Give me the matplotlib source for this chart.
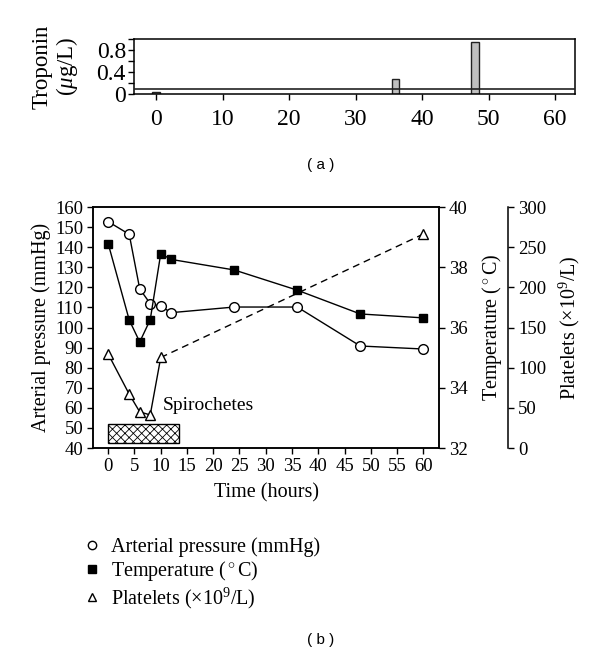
import numpy as np
import matplotlib
matplotlib.use("Agg")
import matplotlib.pyplot as plt
from matplotlib.lines import Line2D
from matplotlib.patches import Rectangle
from matplotlib.ticker import MultipleLocator

plt.rcParams['font.family'] = ['Liberation Serif', 'DejaVu Serif']
plt.rcParams['mathtext.fontset'] = 'custom'
plt.rcParams['mathtext.rm'] = 'Liberation Serif'
plt.rcParams['mathtext.it'] = 'Liberation Serif:italic'
plt.rcParams['axes.linewidth'] = 1.1
plt.rcParams['hatch.color'] = '#888888'
plt.rcParams['hatch.linewidth'] = 0.6

# troponin (panel a)
tropTimes = [0, 36, 48]
tropVals = [0.04, 0.28, 0.95]
tropLimit = 0.1

# panel b
hours = [0, 4, 6, 8, 10, 12, 24, 36, 48, 60]
pressure = [152.7, 146.4, 119.2, 111.9, 110.6, 107.4, 110.2, 110.2, 90.8, 89.3]
temperature = [38.78, 36.25, 35.52, 36.26, 38.45, 38.26, 37.91, 37.24, 36.45, 36.32]
plateletHours = [0, 4, 6, 8, 10, 60]
platelets = [116.9, 67.0, 45.0, 41.2, 112.7, 266.3]
spiroStart, spiroEnd = 0, 13.5

fig = plt.figure(figsize=(6, 6.58), dpi=100)

# ---------- (a) ----------
axA = fig.add_axes([0.2238, 0.8571, 0.7345, 0.0836])
axA.bar(tropTimes, tropVals, width=1.2, color='#c0c0c0', edgecolor='#222222', linewidth=1.0, zorder=2)
axA.axhline(tropLimit, color='#222222', linewidth=1.2, zorder=3)
axA.set_xlim(-3.3, 63)
axA.set_ylim(0, 1.0)
axA.set_xticks(range(0, 61, 10))
axA.set_yticks([0, 0.4, 0.8])
axA.set_yticklabels(['0', '0.4', '0.8'])
axA.yaxis.set_minor_locator(MultipleLocator(0.2))
axA.tick_params(axis='both', which='both', direction='out', labelsize=17, length=4, width=1.0, pad=2)
axA.tick_params(axis='x', pad=7)
axA.set_ylabel('Troponin\n($\\mu$g/L)', fontsize=16.5, linespacing=1.05, labelpad=12)
fig.text(0.535, 1 - 165/658, '( a )', ha='center', va='center', fontsize=11, family='Liberation Sans')

# ---------- (b) ----------
ax = fig.add_axes([0.155, 0.3191, 0.5767, 0.3663])
ax2 = ax.twinx()
ax3 = ax.twinx()

ax.plot(hours, pressure, '-', color='black', linewidth=1.0, zorder=3)
ax.plot(hours, pressure, 'o', markerfacecolor='white', markeredgecolor='black',
        markersize=7, markeredgewidth=1.0, zorder=4)
ax2.plot(hours, temperature, '-s', color='black', markersize=6.3, linewidth=1.0)
ax3.plot(plateletHours[:5], platelets[:5], '-', color='black', linewidth=1.0)
ax3.plot(plateletHours[4:], platelets[4:], '--', color='black', linewidth=1.0, dashes=(5, 3.5))
ax3.plot(plateletHours, platelets, '^', markerfacecolor='white', markeredgecolor='black',
         markersize=7.5, markeredgewidth=1.0)

ax.add_patch(Rectangle((spiroStart, 42.5), spiroEnd - spiroStart, 9.3, facecolor='white',
                       edgecolor='black', hatch='xxxx', linewidth=1.0))
ax.text(10.3, 61.3, 'Spirochetes', fontsize=14, va='center', ha='left')

ax.set_xlim(-2.9, 63)
ax.set_ylim(40, 160)
ax.set_xticks(range(0, 61, 5))
ax.set_yticks(range(40, 161, 10))
ax.tick_params(direction='out', labelsize=13.5, length=4, width=1.0, pad=3)
ax.set_xlabel('Time (hours)', fontsize=14.5, labelpad=6)
ax.set_ylabel('Arterial pressure (mmHg)', fontsize=14.5, labelpad=3)

ax2.set_ylim(32, 40)
ax2.set_yticks([32, 34, 36, 38, 40])
ax2.tick_params(direction='out', labelsize=13.5, length=4, width=1.0, pad=3)
ax2.set_ylabel('Temperature ($^\\circ$C)', fontsize=14.5, labelpad=9)

ax3.set_ylim(0, 300)
ax3.set_yticks(range(0, 301, 50))
ax3.spines['right'].set_position(('axes', 1.2))
for s in ['top', 'left', 'bottom']:
    ax3.spines[s].set_visible(False)
ax3.tick_params(direction='out', labelsize=13.5, length=4, width=1.0, pad=3)
ax3.set_ylabel('Platelets ($\\times$10$^9$/L)', fontsize=14.5, labelpad=8)

handles = [Line2D([], [], marker='o', linestyle='none', markerfacecolor='white', markeredgecolor='black', markersize=6),
           Line2D([], [], marker='s', linestyle='none', color='black', markersize=6),
           Line2D([], [], marker='^', linestyle='none', markerfacecolor='white', markeredgecolor='black', markersize=6)]
labels = ['Arterial pressure (mmHg)', 'Temperature ($^\\circ$C)', 'Platelets ($\\times$10$^9$/L)']
fig.legend(handles, labels, loc='upper left', bbox_to_anchor=(0.14, 1 - 537/658), frameon=False,
           fontsize=14.5, handlelength=0.8, handletextpad=0.55, labelspacing=0.12, borderpad=0, borderaxespad=0)

fig.text(0.535, 1 - 640/658, '( b )', ha='center', va='center', fontsize=11, family='Liberation Sans')

fig.savefig('out.png', dpi=100)
